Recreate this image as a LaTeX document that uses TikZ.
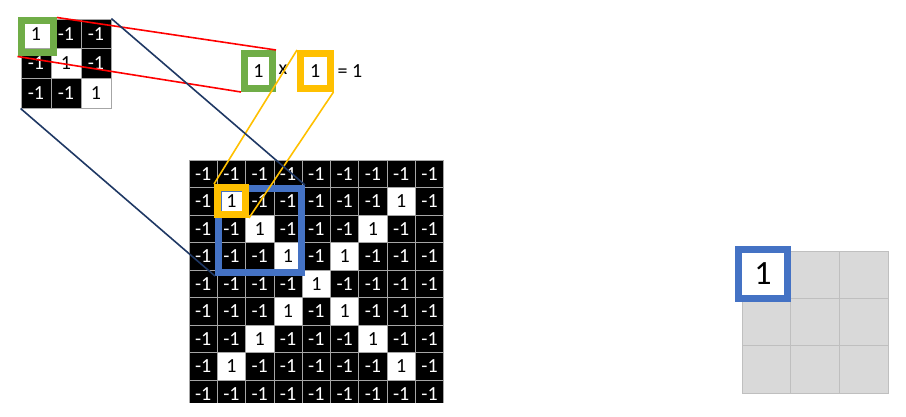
\documentclass[tikz,border=0pt]{standalone}
\usepackage{fontspec}
\setmainfont{Carlito}
\definecolor{vert}{HTML}{70AD47}
\definecolor{jaune}{HTML}{FFC000}
\definecolor{bleu}{HTML}{4472C4}
\definecolor{marine}{HTML}{1F3864}
\definecolor{gris}{HTML}{D9D9D9}
\definecolor{grisfonce}{HTML}{BFBFBF}
\begin{document}
\begin{tikzpicture}[x=1pt,y=-1pt,
    cell/.style={minimum width=28.3pt, minimum height=27.5pt, inner sep=0pt, draw=gray!70, line width=0.8pt, font=\fontsize{20}{20}\selectfont},
    noir/.style={fill=black, text=white},
    blanc/.style={fill=white, text=black},
    petite/.style={cell, minimum width=30pt, minimum height=29.7pt},
    boite/.style={line width=7pt, inner sep=0pt, fill=white, font=\fontsize{20}{20}\selectfont},
    trait/.style={line width=1.6pt}]
    \useasboundingbox (0,0) rectangle (906,417);
    % grande image 9x9
    \begin{scope}
        \clip (189,160) rectangle (445,402);
        \foreach \i in {0,...,8}
            \foreach \j in {0,...,8} {
                \pgfmathtruncatemacro\un{and(and(\i>0,\i<8),or(\i==\j,\i+\j==8))}
                \ifnum\un=1
                    \node[cell,blanc] (b-\i-\j) at (203.15+28.3*\j,173.75+27.5*\i) {1};
                \else
                    \node[cell,noir] (b-\i-\j) at (203.15+28.3*\j,173.75+27.5*\i) {-1};
                \fi
            }
    \end{scope}
    % filtre 3x3
    \foreach \i in {0,1,2}
        \foreach \j in {0,1,2} {
            \ifnum\i=\j
                \node[petite,blanc] (s-\i-\j) at (36+30*\j,33.85+29.7*\i) {1};
            \else
                \node[petite,noir] (s-\i-\j) at (36+30*\j,33.85+29.7*\i) {-1};
            \fi
        }
    % carte de sortie
    \foreach \i in {0,1,2}
        \foreach \j in {0,1,2}
            \node[minimum width=48.7pt, minimum height=47.3pt, fill=gris, draw=grisfonce, line width=0.8pt] (r-\i-\j) at (766.35+48.7*\j,274.65+47.3*\i) {};
    \node[boite, draw=bleu, minimum size=49pt, font=\fontsize{34}{34}\selectfont] (rb) at (763,274) {1};
    % cadres
    \node[draw=vert, line width=7pt, minimum width=32.5pt, minimum height=32pt] (sg) at (37.25,37) {};
    \node[boite, draw=vert, minimum width=28pt, minimum height=35pt] (mg) at (258.5,71) {1};
    \node[boite, draw=jaune, minimum width=29.5pt, minimum height=35pt] (mo) at (315.25,71) {1};
    \node[font=\fontsize{20}{20}\selectfont] (fois) at (283,70) {x};
    \node[font=\fontsize{20}{20}\selectfont, anchor=west] (egal) at (334,71) {= 1};
    \node[draw=bleu, line width=7pt, minimum width=83pt, minimum height=84pt] (bb) at (260,230.5) {};
    \node[draw=jaune, line width=7pt, minimum width=28pt, minimum height=27pt] (so) at (231.5,201) {};
    % traits
    \draw[trait, red] (sg.north east) -- (mg.north east);
    \draw[trait, red] (sg.south west) -- (mg.south west);
    \draw[trait, jaune] (mo.north west) -- (so.north west);
    \draw[trait, jaune] (mo.south east) -- (so.south east);
    \draw[trait, marine] (s-0-2.north east) -- (bb.north east);
    \draw[trait, marine] (s-2-0.south west) -- (bb.south west);
\end{tikzpicture}
\end{document}
